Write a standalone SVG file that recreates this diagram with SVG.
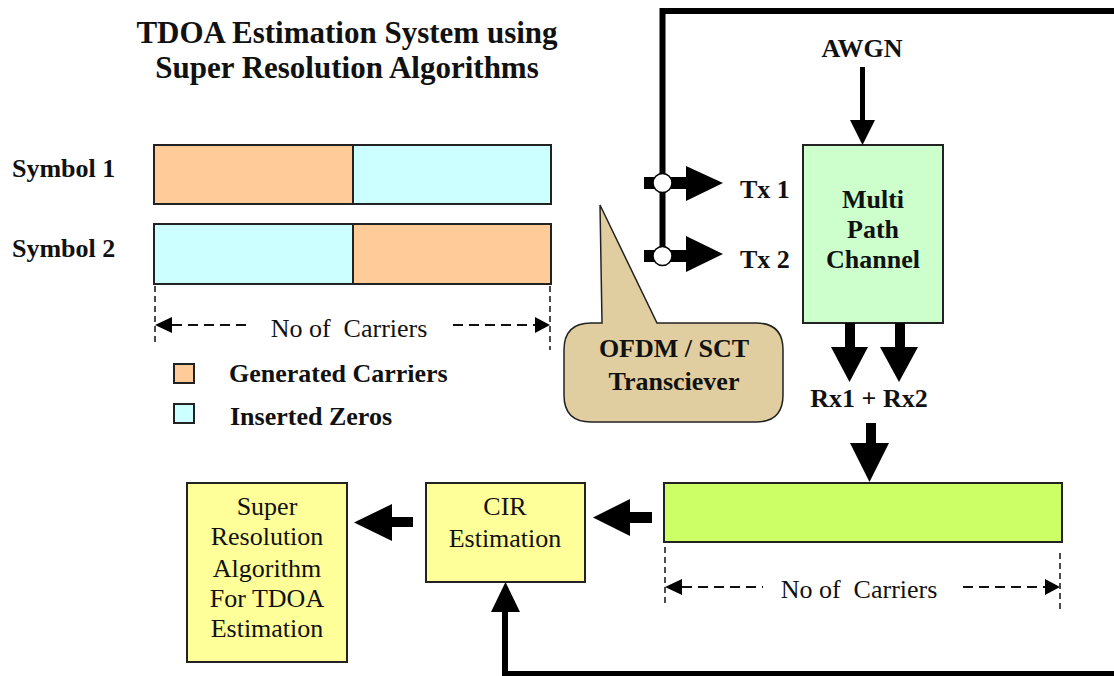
<svg xmlns="http://www.w3.org/2000/svg" width="1114" height="676" viewBox="0 0 1114 676">
<style>
.b{font-family:"Liberation Serif","Times New Roman",serif;font-weight:bold;font-size:26px;fill:#111}
.r{font-family:"Liberation Serif","Times New Roman",serif;font-size:26px;fill:#111}
.c{text-anchor:middle}
.box{stroke:#222;stroke-width:2}
.dim{stroke:#111;stroke-width:2;stroke-dasharray:10 6;fill:none}
.ext{stroke:#111;stroke-width:1.5;stroke-dasharray:6 4;fill:none}
.ah{fill:#000}
.thick{fill:none;stroke:#000;stroke-width:6}
</style>
<defs>
<clipPath id="clipGen"><rect x="200" y="365" width="300" height="40"/></clipPath>
</defs>
<rect width="1114" height="676" fill="#fff"/>

<g id="title">
<text class="b c" x="347" y="43" style="font-size:31px">TDOA Estimation System using</text>
<text class="b c" x="347" y="78" style="font-size:31px">Super Resolution Algorithms</text>
</g>

<g id="symbol1">
<text class="b" x="12" y="177">Symbol 1</text>
<rect class="box" x="154" y="145" width="199" height="59" fill="#FFCC99"/>
<rect class="box" x="353" y="145" width="198" height="59" fill="#CCFFFF"/>
</g>
<g id="symbol2">
<text class="b" x="12" y="257">Symbol 2</text>
<rect class="box" x="154" y="224" width="199" height="60" fill="#CCFFFF"/>
<rect class="box" x="353" y="224" width="198" height="60" fill="#FFCC99"/>
</g>

<g id="dimension1">
<line class="ext" x1="155" y1="286" x2="155" y2="344"/>
<line class="ext" x1="550" y1="286" x2="550" y2="350"/>
<line class="dim" x1="172" y1="325" x2="252" y2="325"/>
<line class="dim" x1="453" y1="325" x2="535" y2="325"/>
<polygon class="ah" points="155,325 172,317 172,333"/>
<polygon class="ah" points="550,325 535,317 535,333"/>
<text class="r c" x="349" y="337" xml:space="preserve" style="white-space:pre">No of  Carriers</text>
</g>

<g id="legend">
<rect class="box" x="174" y="364" width="20" height="19" fill="#FFCC99" stroke-width="1.5"/>
<rect class="box" x="174" y="404" width="20" height="19" fill="#CCFFFF" stroke-width="1.5"/>
<text class="b" x="229" y="382" clip-path="url(#clipGen)">Generated Carriers</text>
<text class="b" x="230" y="425">Inserted Zeros</text>
</g>

<g id="callout">
<path d="M600,205 L657,323 L756,323 Q783,323 783,350 L783,395 Q783,422 756,422 L591,422 Q564,422 564,395 L564,350 Q564,323 591,323 L602,323 Z" fill="#E0CDA0" stroke="#222" stroke-width="1.5"/>
<text class="b c" x="674" y="357">OFDM / SCT</text>
<text class="b c" x="674" y="390">Transciever</text>
</g>

<g id="channel">
<rect class="box" x="803" y="145" width="140" height="178" fill="#CCFFCC"/>
<text class="b c" x="873" y="208">Multi</text>
<text class="b c" x="873" y="238">Path</text>
<text class="b c" x="873" y="268">Channel</text>
</g>

<g id="awgn">
<text class="b c" x="862" y="57">AWGN</text>
</g>

<g id="rxlabel">
<text class="b c" x="869" y="407">Rx1 + Rx2</text>
</g>

<g id="rxbar">
<rect class="box" x="664" y="483" width="398" height="59" fill="#CCFF66"/>
</g>

<g id="dimension2">
<line class="ext" x1="665" y1="547" x2="665" y2="607"/>
<line class="ext" x1="1060" y1="553" x2="1060" y2="613"/>
<line class="dim" x1="682" y1="587" x2="763" y2="587"/>
<line class="dim" x1="963" y1="587" x2="1045" y2="587"/>
<polygon class="ah" points="665,587 682,579 682,595"/>
<polygon class="ah" points="1060,587 1045,579 1045,595"/>
<text class="r c" x="859" y="598" xml:space="preserve" style="white-space:pre">No of  Carriers</text>
</g>

<g id="cir">
<rect class="box" x="426" y="483" width="159" height="99" fill="#FFFF99"/>
<text class="r c" x="505" y="515">CIR</text>
<text class="r c" x="505" y="547">Estimation</text>
</g>

<g id="superres">
<rect class="box" x="187" y="483" width="160" height="179" fill="#FFFF99"/>
<text class="r c" x="267" y="515">Super</text>
<text class="r c" x="267" y="545">Resolution</text>
<text class="r c" x="267" y="577">Algorithm</text>
<text class="r c" x="267" y="607">For TDOA</text>
<text class="r c" x="267" y="637">Estimation</text>
</g>

<g id="connectors">
<polyline class="thick" points="1114,11 662.5,11 662.5,256"/>
<rect x="644" y="177" width="44" height="12" fill="#000"/>
<polygon class="ah" points="686,166 723,183 686,201"/>
<circle cx="662.5" cy="183" r="9.5" fill="#fff" stroke="#000" stroke-width="1.5"/>
<rect x="644" y="250" width="44" height="12" fill="#000"/>
<polygon class="ah" points="686,236 723,254 686,272"/>
<circle cx="662.5" cy="256" r="9.5" fill="#fff" stroke="#000" stroke-width="1.5"/>
<text class="b" x="740" y="198">Tx 1</text>
<text class="b" x="740" y="268">Tx 2</text>
<rect x="860" y="67" width="5" height="54" fill="#000"/>
<polygon class="ah" points="850,120 875,120 862.5,145"/>
<rect x="845" y="323" width="10" height="25" fill="#000"/>
<polygon class="ah" points="831,347 868,347 849.5,382"/>
<rect x="895" y="323" width="10" height="25" fill="#000"/>
<polygon class="ah" points="880,347 918,347 899,382"/>
<rect x="866" y="423" width="10" height="21" fill="#000"/>
<polygon class="ah" points="850,443 889,443 869.5,482"/>
<rect x="628" y="512" width="24" height="11" fill="#000"/>
<polygon class="ah" points="630,499 630,536 593,517.5"/>
<rect x="390" y="517" width="23" height="10" fill="#000"/>
<polygon class="ah" points="392,504 392,541 354,522.5"/>
<polyline class="thick" points="1114,674 505,674 505,610"/>
<polygon class="ah" points="491,612 520,612 505.5,582"/>
</g>
</svg>
